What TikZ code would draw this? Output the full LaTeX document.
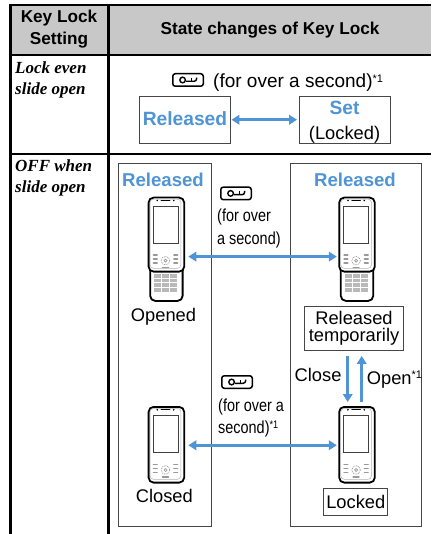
\documentclass[tikz,border=0pt]{standalone}
\usepackage{fontspec}
\setmainfont{Liberation Sans}
\newfontfamily\labelserif{Liberation Serif}
\newfontfamily\narrowsans[FakeStretch=0.83]{Liberation Sans}
\usetikzlibrary{arrows.meta}
\definecolor{stateblue}{RGB}{79,148,212}
\definecolor{headgray}{RGB}{200,200,200}
\definecolor{boxline}{RGB}{70,70,70}
% footnote mark "*1"
\newcommand\starone[1]{\raisebox{#1}{\fontsize{11}{11}\selectfont *1}}
% front face of a handset (speaker, screen, keys); #1 = bottom of inner rim
\newcommand\phoneface[1]{%
  \draw[gray!60, line width=0.5pt, rounded corners=3.5pt] (2.4,2.4) rectangle (33.2,#1);
  \draw[line width=1.1pt, line cap=round] (13.5,3.8) -- (22.1,3.8);
  \fill (9.6,3.8) circle[radius=0.9] (26,3.8) circle[radius=0.9];
  \draw[black!75, line width=0.8pt] (5.2,9.3) rectangle (30.4,46.5);
  \draw[gray!80, line width=0.7pt, dash pattern=on 0.9pt off 0.9pt] (17.8,64) circle[radius=4.3];
  \draw[gray!80, line width=0.7pt] (17.8,64) circle[radius=1.5];
  \foreach \ky in {58.5,62.5,66.5}{
    \draw[gray!80, line width=1.6pt, line cap=round] (5.8,\ky) -- (9.4,\ky) (26.2,\ky) -- (29.8,\ky);
  }
  \draw[gray!80, line width=1.1pt, line cap=round] (14.8,71) -- (20.8,71);
}
\begin{document}
\begin{tikzpicture}[x=1pt,y=-1pt,
  tableline/.style={line width=2.2pt},
  statebox/.style={draw=boxline, line width=0.9pt, inner sep=0pt},
  headtxt/.style={inner sep=0pt, anchor=base, font=\fontsize{17.2}{20}\selectfont\bfseries},
  rowlabel/.style={inner sep=0pt, anchor=base west, font=\fontsize{17}{20}\selectfont\labelserif\bfseries\itshape},
  bodytxt/.style={inner sep=0pt, anchor=base, font=\fontsize{18.3}{22}\selectfont},
  smalltxt/.style={inner sep=0pt, anchor=base west, font=\fontsize{17.4}{20}\selectfont\narrowsans},
  bluetxt/.style={inner sep=0pt, anchor=base, text=stateblue, font=\fontsize{18.6}{22}\selectfont\bfseries},
  biarrow/.style={draw=stateblue, line width=2.6pt, {Triangle[length=8pt,width=9.5pt]}-{Triangle[length=8pt,width=9.5pt]}},
  onearrow/.style={draw=stateblue, line width=2.6pt, -{Triangle[length=8pt,width=9.5pt]}},
  keyicon/.style={draw, line width=1.5pt, rounded corners=2.5pt, minimum width=30.5pt, minimum height=12.5pt, inner sep=0pt,
    path picture={
      \draw[line width=1.4pt] ([shift={(-5.4,0)}]path picture bounding box.center) circle[radius=2.8];
      \draw[line width=1.4pt] ([shift={(-2,1.3)}]path picture bounding box.center) -- ([shift={(8.6,1.3)}]path picture bounding box.center) -- ([shift={(8.6,-2.4)}]path picture bounding box.center);
      \draw[line width=1.4pt] ([shift={(3.4,1.3)}]path picture bounding box.center) -- ([shift={(3.4,-2.4)}]path picture bounding box.center);
    }},
  phonebody/.style={draw=black, line width=1.8pt, rounded corners=5pt, fill=white, inner sep=0pt, anchor=north west},
  pics/closedphone/.style={code={
    \node[phonebody, minimum width=35.6pt, minimum height=75.7pt] (-body) at (0,0) {};
    \phoneface{73.3}
  }},
  pics/openphone/.style={code={
    \node[phonebody, minimum width=32.4pt, minimum height=44pt] (-slide) at (1.6,59.3) {};
    \foreach \kr in {0,...,3}{
      \foreach \kc in {0,...,2}{
        \fill[gray!55] ({6.3+\kc*8},{77.3+\kr*4.7}) rectangle +(7,3.6);
      }
    }
    \node[phonebody, minimum width=35.6pt, minimum height=74pt] (-body) at (0,0) {};
    \phoneface{71.6}
  }}
]
\useasboundingbox (0,0) rectangle (431,534);

% ---- table frame ----
\fill[headgray] (10.5,5) rectangle (431,55);
\draw[tableline] (431,5) -- (10.5,5) -- (10.5,534);
\draw[tableline] (10.5,55) -- (431,55);
\draw[tableline] (10.5,153.7) -- (431,153.7);
\draw[tableline] (108.5,5) -- (108.5,534);

% ---- header ----
\node[headtxt] (headA1) at (59,22.7) {Key Lock};
\node[headtxt] (headA2) at (59,45) {Setting};
\node[headtxt] (headB) at (270,34.3) {State changes of Key Lock};

% ---- row labels ----
\node[rowlabel] (rowA1) at (15,74) {Lock even};
\node[rowlabel] (rowA2) at (15,94.5) {slide open};
\node[rowlabel] (rowB1) at (15,171.7) {OFF when};
\node[rowlabel] (rowB2) at (15,192.7) {slide open};

% ---- row 1: lock even with slide open ----
\node[keyicon] (keyA) at (188,80) {};
\node[bodytxt, anchor=base west, font=\fontsize{19}{22}\selectfont] (keyAtxt) at (213,87.3) {(for over a second)\starone{4.5pt}};
\node[statebox, minimum width=91pt, minimum height=46.6pt] (relA) at (185,119.75) {};
\node[bluetxt, font=\fontsize{19.2}{22}\selectfont\bfseries] (relAtxt) at (185,126) {Released};
\node[statebox, minimum width=91pt, minimum height=46.6pt] (setA) at (344.5,119.75) {};
\node[bluetxt, font=\fontsize{19.2}{22}\selectfont\bfseries] (setAtxt) at (344.5,115) {Set};
\node[bodytxt] (setAsub) at (344.5,139.3) {(Locked)};
\draw[biarrow, shorten <=0.5pt, shorten >=1.5pt] (relA.east) -- (setA.west);

% ---- row 2: off when slide open ----
\node[statebox, minimum width=93.1pt, minimum height=362.5pt] (leftpanel) at (165,345) {};
\node[statebox, minimum width=130.8pt, minimum height=362.5pt] (rightpanel) at (355.85,345) {};
\node[bluetxt] (relL) at (163,186.7) {Released};
\node[bluetxt] (relR) at (355,186.7) {Released};

\node[keyicon] (keyB) at (236,193.4) {};
\node[smalltxt] (keyBtxt1) at (217,221.7) {(for over};
\node[smalltxt] (keyBtxt2) at (217,244) {a second)};

\pic (openL) at (147.7,196.7) {openphone};
\pic (openR) at (338.3,196.7) {openphone};
\draw[biarrow] ([shift={(3.2,22)}]openL-body.east) -- ([shift={(-1.5,22)}]openR-body.west);
\node[bodytxt] (opened) at (163.5,321.7) {Opened};

\node[statebox, minimum width=99pt, minimum height=43.7pt] (reltemp) at (354,328.35) {};
\node[bodytxt] (reltemp1) at (354,324.3) {Released};
\node[bodytxt] (reltemp2) at (354,341.7) {temporarily};

\pic (closedL) at (147.7,406) {closedphone};
\pic (closedR) at (338.3,406) {closedphone};

\coordinate (closeTop) at ([shift={(-6.3,5.3)}]reltemp.south);
\coordinate (closeBot) at (closeTop |- closedR-body.north);
\draw[onearrow, shorten >=4pt] (closeTop) -- (closeBot);
\coordinate (openTop) at ([shift={(7.7,5.3)}]reltemp.south);
\coordinate (openBot) at (openTop |- closedR-body.north);
\draw[onearrow, shorten <=4pt] (openBot) -- (openTop);
\node[bodytxt, anchor=base east] (closeTxt) at (341.7,381.7) {Close};
\node[bodytxt, anchor=base west] (openTxt) at (366.7,384) {Open\starone{6pt}};

\node[keyicon] (keyC) at (237,382) {};
\node[smalltxt] (keyCtxt1) at (218,411) {(for over a};
\node[smalltxt] (keyCtxt2) at (218,433.3) {second)\starone{5pt}};

\draw[biarrow] ([shift={(3.2,0.5)}]closedL-body.east) -- ([shift={(-1.5,0.5)}]closedR-body.west);
\node[bodytxt] (closed) at (164.3,502.7) {Closed};
\node[statebox, font=\fontsize{18.3}{22}\selectfont, minimum width=64pt, minimum height=26.8pt] (locked) at (355.8,502.15) {Locked};
\end{tikzpicture}
\end{document}
